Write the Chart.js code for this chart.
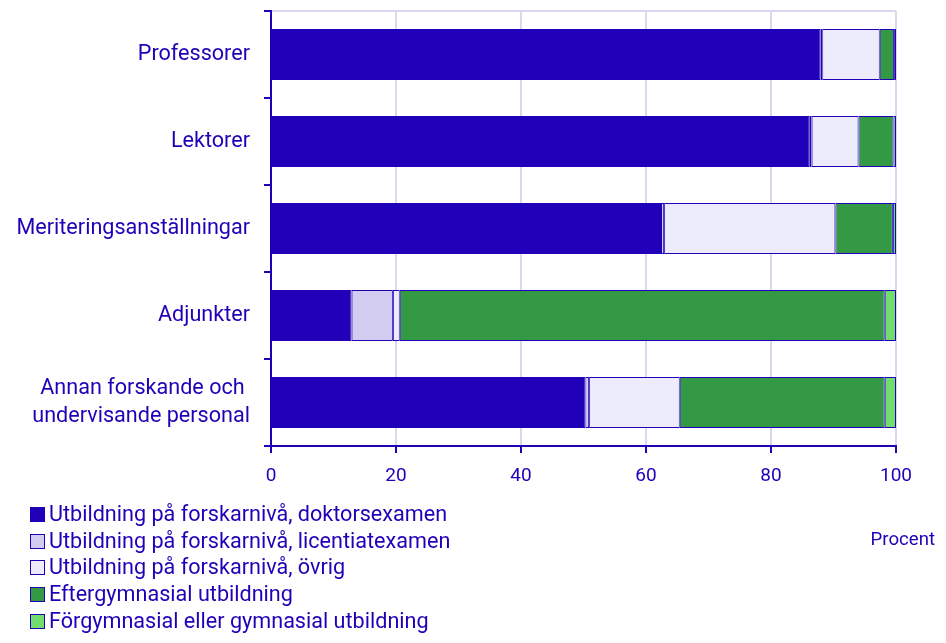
<!DOCTYPE html>
<html lang="sv">
<head>
<meta charset="utf-8">
<title>Utbildningsnivå per tjänstekategori</title>
<script src="https://cdn.jsdelivr.net/npm/chart.js@4/dist/chart.umd.min.js"></script>
<style>
    body { margin: 0; background: #fff; font-family: Roboto, sans-serif; color: #2200b8; }
    #wrap { position: relative; width: 946px; height: 643px; }
    #legend { position: absolute; left: 30px; top: 501px; margin: 0; padding: 0; list-style: none; font-size: 21.6px; }
    #legend li { height: 26.7px; line-height: 26.7px; display: flex; align-items: center; }
    #legend span.box { width: 13px; height: 13px; border: 1px solid #2200b8; margin-right: 4px; box-sizing: content-box; }
    #unit { position: absolute; right: 11px; top: 528px; font-size: 18.6px; }
</style>
</head>
<body>
<div id="wrap">
    <canvas id="chart" width="946" height="643"></canvas>
    <ul id="legend"></ul>
    <div id="unit">Procent</div>
</div>
<script>
    const categories = ['Professorer', 'Lektorer', 'Meriteringsanställningar', 'Adjunkter', ['Annan forskande och ', 'undervisande personal']];
    const seriesNames = [
        'Utbildning på forskarnivå, doktorsexamen',
        'Utbildning på forskarnivå, licentiatexamen',
        'Utbildning på forskarnivå, övrig',
        'Eftergymnasial utbildning',
        'Förgymnasial eller gymnasial utbildning'
    ];
    const doktor = [87.9, 86.2, 62.4, 12.9, 50.3];
    const licentiat = [0.3, 0.3, 0.5, 6.6, 0.6];
    const ovrig = [9.2, 7.5, 27.4, 1.1, 14.5];
    const eftergym = [2.3, 5.6, 9.2, 77.6, 32.8];
    const forgym = [0.3, 0.4, 0.5, 1.8, 1.8];
    const xTicks = [0, 20, 40, 60, 80, 100];

    const ink = '#2200b8';
    const colors = ['#2000b8', '#d1ccf0', '#ececfc', '#339944', '#70dd6c'];
    const values = [doktor, licentiat, ovrig, eftergym, forgym];

    Chart.defaults.font.family = 'Roboto, sans-serif';
    Chart.defaults.color = ink;

    new Chart(document.getElementById('chart').getContext('2d'), {
        type: 'bar',
        data: {
            labels: categories,
            datasets: seriesNames.map((name, i) => ({
                label: name,
                data: values[i],
                backgroundColor: colors[i],
                borderColor: ink,
                borderWidth: 1,
                borderSkipped: false,
                barPercentage: 0.585,
                categoryPercentage: 1
            }))
        },
        options: {
            indexAxis: 'y',
            responsive: false,
            animation: false,
            layout: { padding: { top: 11, right: 50, bottom: 157, left: 0 } },
            plugins: { legend: { display: false }, tooltip: { enabled: false } },
            scales: {
                x: {
                    stacked: true,
                    min: 0,
                    max: 100,
                    afterBuildTicks: axis => { axis.ticks = xTicks.map(v => ({ value: v })); },
                    afterFit: axis => { axis.height = 40; },
                    grid: { color: '#d8d8f0', lineWidth: 2, tickColor: ink, tickLength: 7 },
                    border: { color: ink, width: 2 },
                    ticks: { padding: 12, color: ink, font: { size: 19 } }
                },
                y: {
                    stacked: true,
                    // keep the plot top at the page edge and a fixed label column
                    afterFit: axis => { axis.width = 271; axis.paddingTop = 0; axis.paddingBottom = 0; },
                    grid: {
                        offset: true,
                        color: ctx => ctx.index === 0 ? '#d8d8f0' : 'rgba(0,0,0,0)',
                        lineWidth: 2,
                        tickColor: ink,
                        tickLength: 7
                    },
                    border: { color: ink, width: 2 },
                    ticks: { padding: 14, color: ink, font: { size: 21.6, lineHeight: 1.3 } }
                }
            }
        }
    });

    // legend built from the same series
    document.getElementById('legend').innerHTML = seriesNames.map((name, i) =>
        `<li><span class="box" style="background:${colors[i]}"></span>${name}</li>`
    ).join('');
</script>
</body>
</html>
